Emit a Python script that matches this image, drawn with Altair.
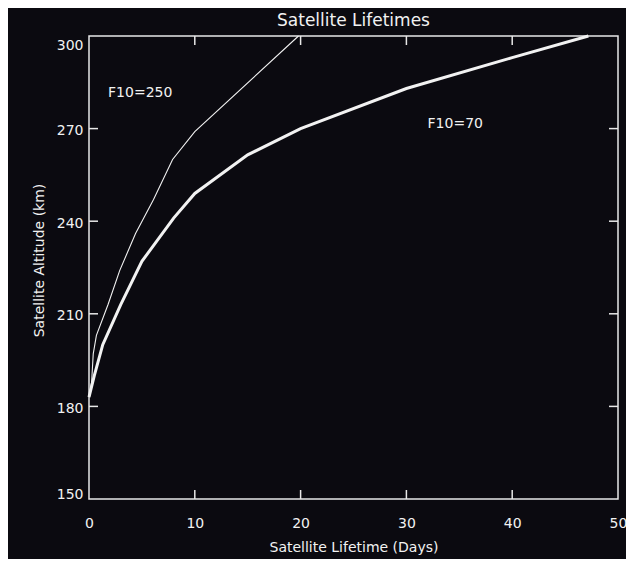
import altair as alt
import pandas as pd

# F10=70 curve (thick)
days_70 = [0, 0.5, 1.3, 3, 5, 8, 10, 15, 20, 30, 40, 47.2]
alt_70 = [183, 190, 200, 213, 227, 241, 249, 261.5, 270, 283, 293, 300]

# F10=250 curve (thin)
days_250 = [0, 0.25, 0.4, 0.7, 1.8, 2.9, 4.4, 6.1, 7.9, 10, 19.8]
alt_250 = [183, 188, 197, 203, 213, 224, 236, 247, 260, 269, 300]

x_ticks = [10, 20, 30, 40]
y_ticks = [180, 210, 240, 270]
x_labels = [0, 10, 20, 30, 40, 50]
y_labels = [150, 180, 210, 240, 270, 300]

ann_text = ["F10=250", "F10=70"]
ann_day = [1.8, 32.0]
ann_alt = [281.5, 271.5]

title_text = ["Satellite Lifetimes"]

FONT = "DejaVu Sans"
FG = "#f2f2f2"
BG = "#0b0a10"
W, H = 529, 463

df = pd.concat([
    pd.DataFrame({"day": days_70, "alt": alt_70, "series": "F10=70"}),
    pd.DataFrame({"day": days_250, "alt": alt_250, "series": "F10=250"}),
])

xscale = alt.Scale(domain=[0, 50], nice=False, zero=False)
yscale = alt.Scale(domain=[150, 300], nice=False, zero=False)

xaxis = alt.Axis(values=x_labels, ticks=False, domain=False, grid=False,
                 labelFlush=False, labelPadding=24, labelBaseline="middle",
                 labelFont=FONT, labelFontSize=14, labelColor=FG,
                 title="Satellite Lifetime (Days)", titleFont=FONT,
                 titleFontSize=14, titleFontWeight="normal", titleColor=FG,
                 titleBaseline="middle", titleY=48, titleX=W / 2,
                 titleAnchor="middle")
yaxis = alt.Axis(values=y_labels, ticks=False, domain=False, grid=False,
                 labelFlush=True, labelOffset=2, labelPadding=6,
                 labelFont=FONT, labelFontSize=14, labelColor=FG,
                 title="Satellite Altitude (km)", titleFont=FONT,
                 titleFontSize=14, titleFontWeight="normal", titleColor=FG,
                 titleBaseline="middle", titleX=-50, titleY=224,
                 titleAnchor="middle")

lines = alt.Chart(df).mark_line(color=FG).encode(
    x=alt.X("day:Q", scale=xscale, axis=xaxis),
    y=alt.Y("alt:Q", scale=yscale, axis=yaxis),
    detail="series:N",
    strokeWidth=alt.StrokeWidth("series:N",
                                scale=alt.Scale(domain=["F10=70", "F10=250"], range=[3, 1.1]),
                                legend=None),
    order="day:Q",
)

xt = pd.DataFrame({"v": x_ticks})
yt = pd.DataFrame({"v": y_ticks})
tick_color = "#e8e8e8"
bottom_ticks = alt.Chart(xt).mark_rule(color=tick_color, strokeWidth=1.5).encode(
    x=alt.X("v:Q", scale=xscale), y=alt.value(H), y2=alt.value(H - 9))
top_ticks = alt.Chart(xt).mark_rule(color=tick_color, strokeWidth=1.5).encode(
    x=alt.X("v:Q", scale=xscale), y=alt.value(0), y2=alt.value(9))
left_ticks = alt.Chart(yt).mark_rule(color=tick_color, strokeWidth=1.5).encode(
    y=alt.Y("v:Q", scale=yscale), x=alt.value(0), x2=alt.value(9))
right_ticks = alt.Chart(yt).mark_rule(color=tick_color, strokeWidth=1.5).encode(
    y=alt.Y("v:Q", scale=yscale), x=alt.value(W), x2=alt.value(W - 9))

ann = alt.Chart(pd.DataFrame({"t": ann_text, "day": ann_day, "alt": ann_alt})).mark_text(
    align="left", baseline="middle", font=FONT, fontSize=14, color=FG
).encode(x=alt.X("day:Q", scale=xscale), y=alt.Y("alt:Q", scale=yscale), text="t:N")

title = alt.Chart(pd.DataFrame({"t": title_text})).mark_text(
    align="center", baseline="middle", font=FONT, fontSize=17, color=FG
).encode(x=alt.value(W / 2), y=alt.value(-15), text="t:N")

chart = alt.layer(lines, bottom_ticks, top_ticks, left_ticks, right_ticks, ann, title).properties(
    width=W, height=H,
    autosize=alt.AutoSizeParams(type="none"),
    padding={"left": 81, "top": 28, "right": 8, "bottom": 60},
    background=BG,
).configure_view(stroke="#e8e8e8", strokeWidth=1.5)

chart.save("out.html", embed_options={"renderer": "svg", "actions": False})
